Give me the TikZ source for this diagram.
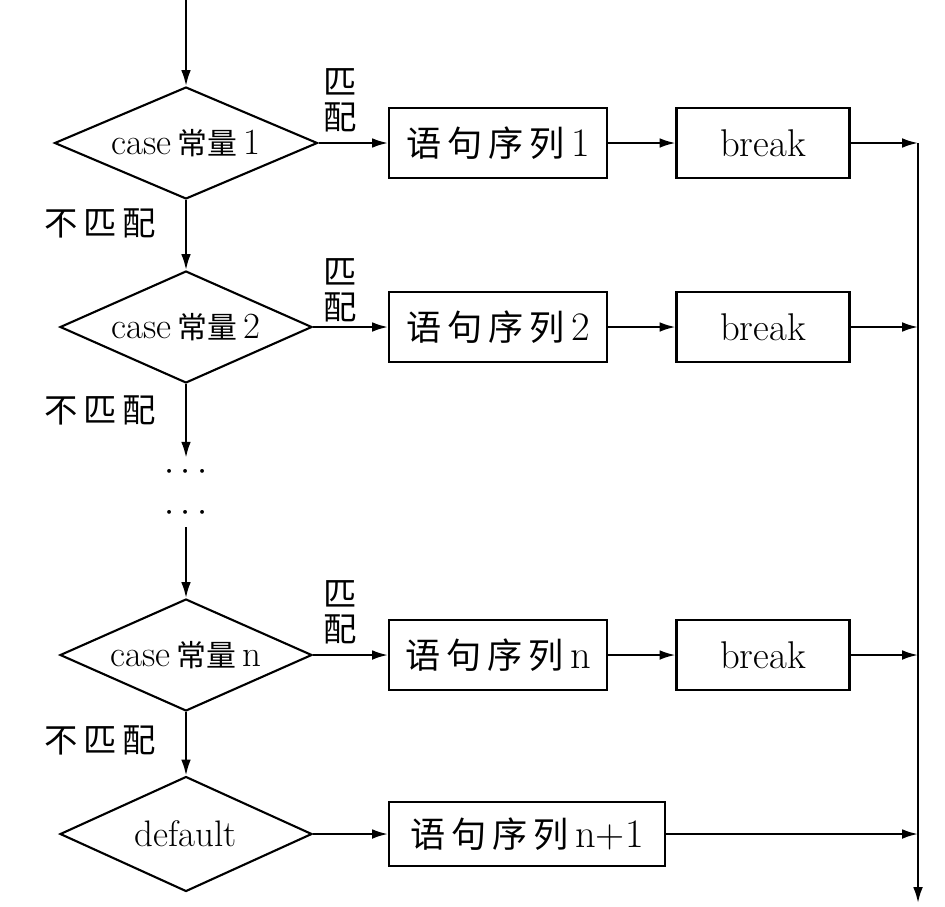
\documentclass[tikz,border=0pt]{standalone}
\usepackage{fontspec}
\newfontfamily\cjk{Noto Sans CJK SC}
\newcommand{\zhs}[1]{{\fontsize{17}{19}\selectfont\cjk #1}}
\newcommand{\zhb}[1]{{\fontsize{20}{22}\selectfont\cjk #1}}
\usetikzlibrary{shapes.geometric,arrows.meta}

\begin{document}
\begin{tikzpicture}[
        x=0.02cm, y=-0.02cm,
        dec/.style={diamond, draw, line width=1.2pt, shape aspect=2.3, minimum width=5.04cm, minimum height=2.24cm, inner sep=0pt, font=\fontsize{21}{23}\selectfont},
        proc/.style={rectangle, draw, line width=1.2pt, minimum width=4.36cm, minimum height=1.4cm, inner sep=1pt, font=\fontsize{23}{25}\selectfont},
        brk/.style={proc, minimum width=3.46cm, font=\fontsize{22}{24}\selectfont},
        lbl/.style={font=\fontsize{19}{20}\selectfont\cjk, inner sep=0pt, align=center},
        arr/.style={-{Latex[length=9pt,width=5.5pt]}, line width=1.2pt}
    ]
    \useasboundingbox (0,0) rectangle (945,906);

    % --- Decisions ---
    \coordinate (start) at (186,0);
    \node[dec, minimum width=5.26cm] (d1) at (186,143) {case\,\zhs{常量}\,1};
    \node[dec] (d2) at (186,327) {case\,\zhs{常量}\,2};
    \node[font=\fontsize{20}{22}\selectfont] (e1) at (186,472) {$\cdots$};
    \node[font=\fontsize{20}{22}\selectfont] (e2) at (186,513) {$\cdots$};
    \node[dec] (dn) at (186,655) {case\,\zhs{常量}\,n};
    \node[dec, minimum height=2.3cm] (dd) at (186,834) {default};

    % --- Statement boxes ---
    \node[proc] (s1) at (498,143) {\zhb{语\,句\,序\,列}\,1};
    \node[proc] (s2) at (498,327) {\zhb{语\,句\,序\,列}\,2};
    \node[proc] (sn) at (498,655) {\zhb{语\,句\,序\,列}\,n};
    \node[proc, minimum width=5.52cm, minimum height=1.28cm] (sd) at (527,834) {\zhb{语\,句\,序\,列}\,n+1};

    \node[brk] (b1) at (763,143) {break};
    \node[brk] (b2) at (763,327) {break};
    \node[brk] (bn) at (763,655) {break};

    % --- Rail on the right ---
    \coordinate (j1) at (918,143);
    \coordinate (j2) at (918,327);
    \coordinate (jn) at (918,655);
    \coordinate (jd) at (918,834);
    \coordinate (rend) at (918,903);

    % --- Labels ---
    \node[lbl] (m1) at (340,100) {匹\\配};
    \node[lbl] (m2) at (340,290) {匹\\配};
    \node[lbl] (mn) at (340,612) {匹\\配};
    \node[lbl] (n1) at (100,223) {不\,匹\,配};
    \node[lbl] (n2) at (100,410) {不\,匹\,配};
    \node[lbl] (nn) at (100,740) {不\,匹\,配};

    % --- Connectors ---
    \draw[arr] (start) -- (d1.north);
    \draw[arr] (d1.south) -- (d2.north);
    \draw[arr] (d2.south) -- (e1.north);
    \draw[arr] (e2.south) -- (dn.north);
    \draw[arr] (dn.south) -- (dd.north);

    \draw[arr] (d1.east) -- (s1.west);
    \draw[arr] (d2.east) -- (s2.west);
    \draw[arr] (dn.east) -- (sn.west);
    \draw[arr] (dd.east) -- (sd.west);

    \draw[arr] (s1) -- (b1);
    \draw[arr] (s2) -- (b2);
    \draw[arr] (sn) -- (bn);

    \draw[arr] (b1) -- (j1);
    \draw[arr] (b2) -- (j2);
    \draw[arr] (bn) -- (jn);
    \draw[arr] (sd) -- (jd);
    \draw[arr] (j1) -- (rend);

    \end{tikzpicture}
\end{document}
